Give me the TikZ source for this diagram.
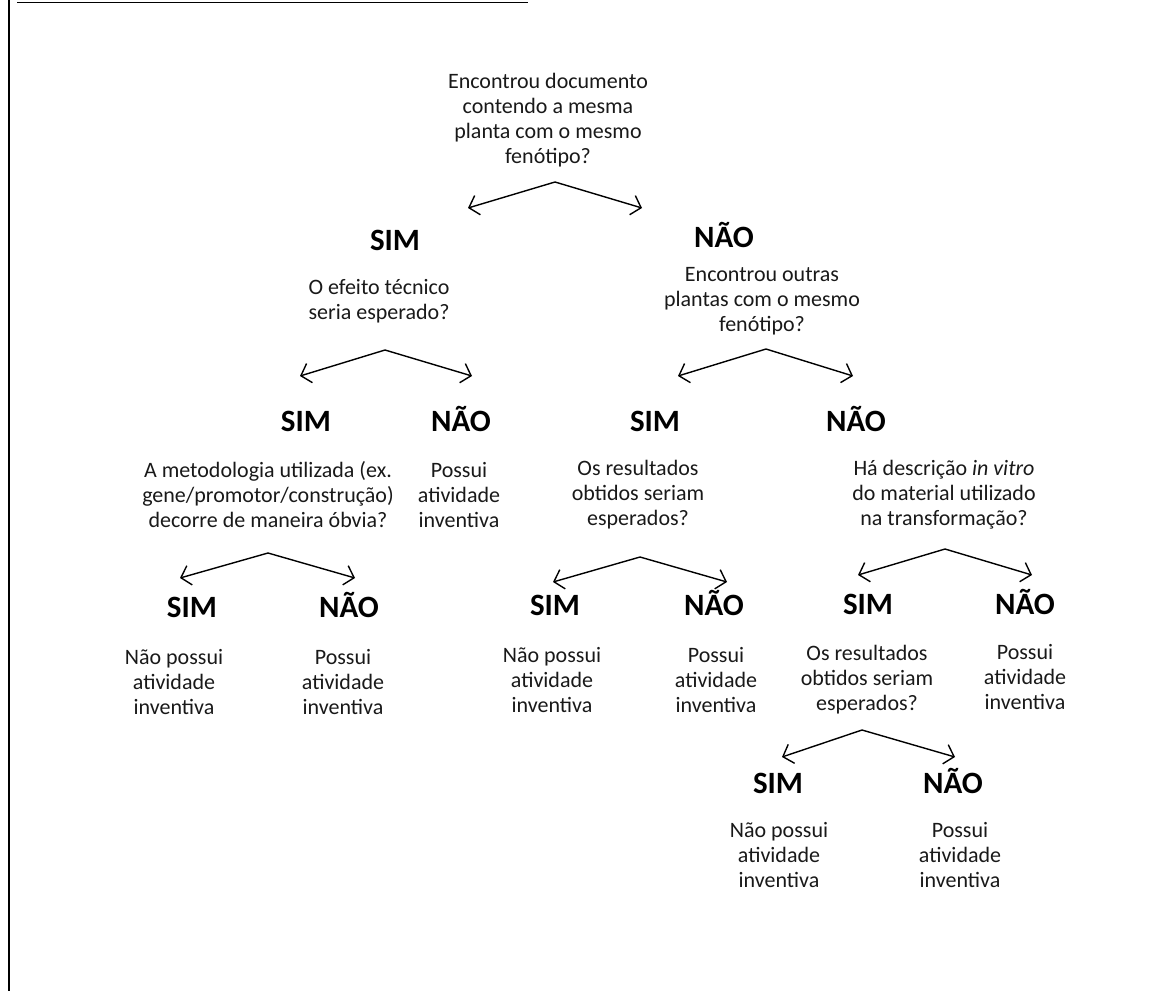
\documentclass[tikz,border=0pt]{standalone}
\usepackage{fontspec}
\setmainfont{Carlito}
\usetikzlibrary{arrows.meta}
\tikzset{
  q/.style={align=center, inner sep=0pt, text=black!90, font=\fontsize{22}{25}\selectfont},
  ans/.style={inner sep=0pt, text height=20pt, text depth=0pt, font=\bfseries\fontsize{31}{31}\selectfont},
  br/.style={draw, line width=1.4pt, -{Straight Barb[length=9pt,width=20pt,line width=1.4pt]}},
}
\begin{document}
\begin{tikzpicture}[x=1pt,y=-1pt]
\useasboundingbox (0,0) rectangle (1174,991);
% frame pieces
\draw[line width=2pt] (8.5,0) -- (8.5,991);
\draw[line width=1.8pt] (17,2.5) -- (528,2.5);

% Level 0
\node[q] (q1) at (548,120) {Encontrou documento\\contendo a mesma\\planta com o mesmo\\fenótipo?};
\coordinate (a1) at (555,182);
\coordinate (a1l) at (468,208);
\coordinate (a1r) at (642,208);
\draw[br] (a1) -- (a1l);
\draw[br] (a1) -- (a1r);

\node[ans] (s1) at (395,240) {SIM};
\node[ans] (n1) at (724,237) {NÃO};

\node[q] (q2) at (379,301.5) {O efeito técnico\\seria esperado?};
\node[q] (q3) at (762,301) {Encontrou outras\\plantas com o mesmo\\fenótipo?};

\coordinate (a2) at (385,350);
\coordinate (a2l) at (300,376);
\coordinate (a2r) at (472,376);
\draw[br] (a2) -- (a2l);
\draw[br] (a2) -- (a2r);

\coordinate (a3) at (766,349);
\coordinate (a3l) at (678,376);
\coordinate (a3r) at (853,376);
\draw[br] (a3) -- (a3l);
\draw[br] (a3) -- (a3r);

\node[ans] (s2) at (306,421) {SIM};
\node[ans] (n2) at (461,421) {NÃO};
\node[ans] (s3) at (655,421) {SIM};
\node[ans] (n3) at (856,421) {NÃO};

\node[q] (q4) at (268,495) {A metodologia utilizada (ex.\\gene/promotor/construção)\\decorre de maneira óbvia?};
\node[q] (r2) at (459,495) {Possui\\atividade\\inventiva};
\node[q] (q5) at (638,495) {Os resultados\\obtidos seriam\\esperados?};
\node[q] (q6) at (944,495) {Há descrição \textit{in vitro}\\do material utilizado\\na transformação?};

\coordinate (a4) at (268,553);
\coordinate (a4l) at (180,578);
\coordinate (a4r) at (355,578);
\draw[br] (a4) -- (a4l);
\draw[br] (a4) -- (a4r);

\coordinate (a5) at (640,557);
\coordinate (a5l) at (553,582);
\coordinate (a5r) at (727,582);
\draw[br] (a5) -- (a5l);
\draw[br] (a5) -- (a5r);

\coordinate (a6) at (945,549);
\coordinate (a6l) at (858,575);
\coordinate (a6r) at (1032,575);
\draw[br] (a6) -- (a6l);
\draw[br] (a6) -- (a6r);

\node[ans] (s4) at (192,607) {SIM};
\node[ans] (n4) at (349,607) {NÃO};
\node[ans] (s5) at (555,605) {SIM};
\node[ans] (n5) at (714,605) {NÃO};
\node[ans] (s6) at (868,604) {SIM};
\node[ans] (n6) at (1025,604) {NÃO};

\node[q] (r4s) at (174,682) {Não possui\\atividade\\inventiva};
\node[q] (r4n) at (343,682) {Possui\\atividade\\inventiva};
\node[q] (r5s) at (552,680) {Não possui\\atividade\\inventiva};
\node[q] (r5n) at (716,680) {Possui\\atividade\\inventiva};
\node[q] (q7) at (867,680) {Os resultados\\obtidos seriam\\esperados?};
\node[q] (r6n) at (1025,677) {Possui\\atividade\\inventiva};

\coordinate (a7) at (862,730);
\coordinate (a7l) at (782,757);
\coordinate (a7r) at (955,757);
\draw[br] (a7) -- (a7l);
\draw[br] (a7) -- (a7r);

\node[ans] (s7) at (778,783) {SIM};
\node[ans] (n7) at (953,783) {NÃO};

\node[q] (r7s) at (779,855) {Não possui\\atividade\\inventiva};
\node[q] (r7n) at (960,855) {Possui\\atividade\\inventiva};
\end{tikzpicture}
\end{document}
